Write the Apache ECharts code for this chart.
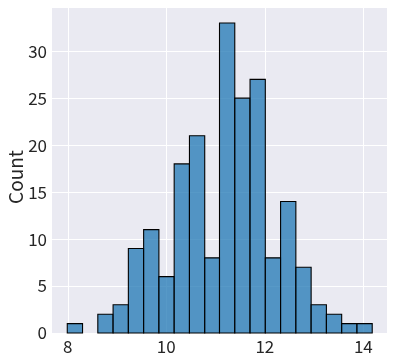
<!DOCTYPE html>
<html><head><meta charset="utf-8">
<script src="https://cdn.jsdelivr.net/npm/echarts@6/dist/echarts.min.js"></script>
<style>html,body{margin:0;padding:0;background:#fff}#c{width:393px;height:362px}</style>
</head><body><div id="c"></div>
<script>
const binEdges = [7.99, 8.30, 8.61, 8.92, 9.23, 9.54, 9.85, 10.16, 10.47, 10.78, 11.08, 11.39, 11.70, 12.01, 12.32, 12.63, 12.94, 13.25, 13.56, 13.87, 14.18];
const counts = [1, 0, 2, 3, 9, 11, 6, 18, 21, 8, 33, 25, 27, 8, 14, 7, 3, 2, 1, 1];
const xTicks = [8, 10, 12, 14];
const yTicks = [0, 5, 10, 15, 20, 25, 30];

const data = counts.map((c, i) => [binEdges[i], binEdges[i + 1], c]);
const font = '"Noto Sans CJK JP", "Noto Sans", sans-serif';
const chart = echarts.init(document.getElementById('c'));
chart.setOption({
  animation: false,
  backgroundColor: '#ffffff',
  grid: { left: 52, right: 6, top: 7, bottom: 29, show: true, backgroundColor: '#eaeaf2', borderWidth: 0,
          containLabel: false, outerBoundsMode: 'none' },
  xAxis: {
    type: 'value', min: 7.68, max: 14.48,
    axisLine: { show: false },
    axisTick: { show: false, customValues: xTicks },
    splitLine: { show: true, lineStyle: { color: '#ffffff', width: 1 } },
    axisLabel: {
      color: '#262626', fontFamily: font, fontSize: 17, margin: 5,
      customValues: xTicks
    }
  },
  yAxis: {
    type: 'value', min: 0, max: 34.7, interval: 5,
    name: 'Count', nameLocation: 'middle', nameGap: 27, nameMoveOverlap: false,
    nameTextStyle: { color: '#262626', fontFamily: font, fontSize: 19, padding: [0, 14, 0, 0] },
    axisLine: { show: false }, axisTick: { show: false },
    splitLine: { show: true, lineStyle: { color: '#ffffff', width: 1 } },
    axisLabel: {
      color: '#262626', fontFamily: font, fontSize: 17, margin: 5,
      showMaxLabel: false,
      formatter: v => yTicks.includes(v) ? String(v) : ''
    }
  },
  series: [{
    type: 'custom',
    data: data,
    encode: { x: [0, 1], y: 2 },
    renderItem: function (params, api) {
      if (api.value(2) <= 0) return;
      const p0 = api.coord([api.value(0), api.value(2)]);
      const p1 = api.coord([api.value(1), 0]);
      return {
        type: 'rect',
        shape: { x: p0[0], y: p0[1], width: p1[0] - p0[0], height: p1[1] - p0[1] },
        style: { fill: 'rgba(31,119,180,0.75)', stroke: '#000000', lineWidth: 1.1 }
      };
    }
  }]
});
</script></body></html>
